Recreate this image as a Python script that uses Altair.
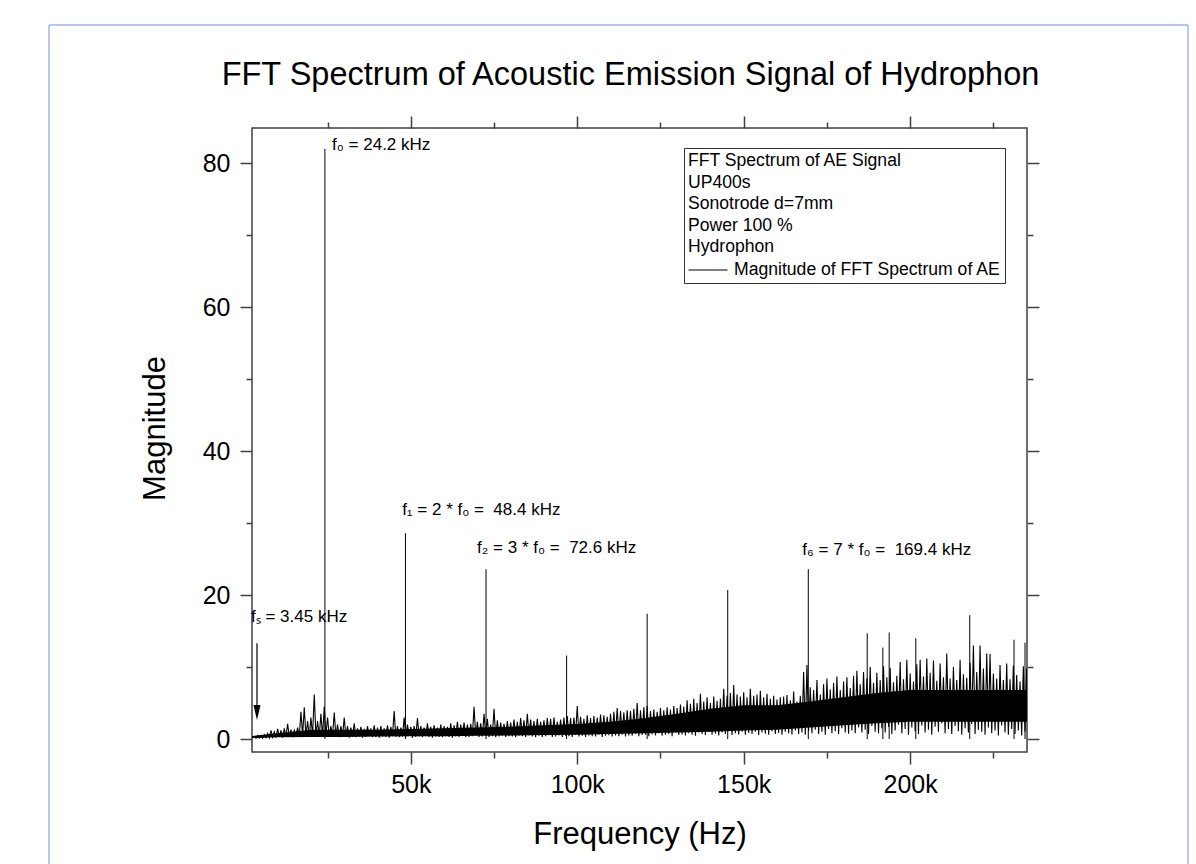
import altair as alt
import pandas as pd

FONT = "Liberation Sans"
FRAME = "#404040"
NBSP = "\u00a0"

chart_title = "FFT Spectrum of Acoustic Emission Signal of Hydrophon"
x_title = "Frequency (Hz)"
y_title = "Magnitude"

# axes (frequency in kHz)
x_domain = [2.3, 235.1]
y_domain = [-1.8, 84.9]
x_ticks = [25, 50, 75, 100, 125, 150, 175, 200, 225]
y_ticks = [0, 10, 20, 30, 40, 50, 60, 70, 80]

# local maxima of the noise floor, one per kHz from 3 kHz to 235 kHz
noise_start_khz = 3
noise_peak = [
    0.4, 0.5, 0.5, 0.6, 0.8, 1.2, 1.0, 1.4, 1.2, 1.5,
    2.1, 1.3, 1.2, 1.6, 3.8, 4.4, 2.5, 3.0, 6.2, 2.5,
    3.5, 4.5, 3.0, 1.8, 3.7, 2.0, 1.8, 3.0, 1.8, 1.6,
    2.2, 1.5, 1.7, 1.4, 1.8, 1.5, 1.9, 1.6, 1.8, 1.5,
    1.9, 1.7, 3.9, 1.8, 1.6, 3.0, 2.0, 1.7, 1.8, 2.9,
    1.8, 1.6, 2.2, 1.7, 1.9, 1.6, 2.0, 1.8, 1.7, 2.2,
    1.9, 2.4, 2.0, 2.3, 2.0, 2.1, 4.5, 2.4, 2.2, 3.5,
    2.8, 2.0, 4.2, 2.6, 2.3, 2.1, 2.5, 2.3, 2.7, 2.4,
    2.9, 2.6, 3.5, 2.7, 2.5, 2.8, 2.4, 2.6, 2.9, 2.8,
    3.0, 2.4, 2.7, 3.0, 3.2, 2.9, 3.0, 4.6, 3.1, 2.8,
    3.3, 2.9, 3.2, 3.0, 3.4, 3.3, 3.1, 3.5, 3.8, 4.3,
    3.9, 3.7, 4.0, 3.9, 4.2, 5.0, 4.0, 4.4, 4.6, 3.9,
    4.1, 3.8, 4.3, 4.0, 4.4, 4.1, 4.6, 4.3, 4.8, 4.5,
    5.4, 4.9, 5.6, 5.0, 6.3, 5.2, 5.8, 5.0, 5.9, 5.3,
    5.6, 7.0, 6.0, 6.4, 7.5, 6.2, 5.9, 6.5, 5.8, 7.0,
    6.0, 6.2, 6.7, 5.8, 6.3, 5.6, 6.0, 5.5, 5.8, 5.9,
    6.1, 5.4, 6.6, 5.2, 6.0, 9.3, 10.3, 7.2, 6.8, 8.2,
    6.2, 7.6, 8.4, 6.9, 7.8, 8.7, 6.8, 8.0, 8.6, 7.1,
    8.8, 9.5, 7.6, 9.3, 8.4, 10.0, 7.8, 9.2, 8.2, 10.1,
    8.6, 9.9, 7.9, 8.8, 10.7, 8.3, 11.0, 9.1, 8.0, 10.4,
    11.0, 8.7, 11.2, 9.2, 10.9, 8.1, 10.5, 8.6, 11.9, 8.4,
    10.0, 8.2, 11.0, 9.0, 8.5, 10.6, 13.0, 9.3, 13.0, 9.8,
    11.9, 11.8, 9.1, 8.4, 10.3, 8.2, 10.5, 8.3, 10.2, 8.9,
    8.0, 10.1, 9.8,
]
# local minima between them (half a kHz later)
noise_dip = [
    0.1, 0.15, 0.1, 0.2, 0.15, 0.25, 0.2, 0.3, 0.2, 0.3,
    0.35, 0.25, 0.4, 0.3, 0.5, 0.4, 0.3, 0.45, 0.5, 0.35,
    0.3, 0.6, 0.4, 0.3, 0.45, 0.25, 0.35, 0.4, 0.2, 0.3,
    0.25, 0.35, 0.2, 0.3, 0.4, 0.25, 0.3, 0.2, 0.35, 0.3,
    0.2, 0.4, 0.3, 0.25, 0.35, 0.3, 0.45, 0.2, 0.3, 0.35,
    0.25, 0.4, 0.3, 0.2, 0.35, 0.3, 0.25, 0.4, 0.3, 0.2,
    0.35, 0.3, 0.45, 0.25, 0.3, 0.4, 0.5, 0.3, 0.35, 0.45,
    0.3, 0.4, 0.25, 0.35, 0.5, 0.3, 0.4, 0.35, 0.25, 0.45,
    0.4, 0.3, 0.5, 0.35, 0.25, 0.45, 0.3, 0.4, 0.55, 0.3,
    0.35, 0.5, 0.3, 0.45, 0.4, 0.3, 0.6, 0.35, 0.45, 0.3,
    0.5, 0.4, 0.35, 0.6, 0.3, 0.45, 0.55, 0.35, 0.5, 0.4,
    0.6, 0.35, 0.5, 0.45, 0.7, 0.4, 0.55, 0.6, 0.4, 0.65,
    0.5, 0.8, 0.45, 0.6, 0.7, 0.4, 0.9, 0.55, 0.65, 0.5,
    0.8, 0.6, 0.45, 0.9, 0.7, 0.55, 1.0, 0.6, 0.75, 0.5,
    0.9, 0.7, 1.1, 0.55, 0.8, 0.65, 1.0, 0.6, 0.85, 0.7,
    1.0, 0.55, 0.9, 0.75, 0.6, 1.1, 0.7, 0.85, 0.6, 1.0,
    0.8, 0.65, 1.2, 0.7, 0.9, 0.6, 1.1, 0.8, 1.3, 0.7,
    1.0, 0.6, 1.4, 0.8, 1.1, 0.7, 1.5, 0.9, 0.75, 1.2,
    0.8, 1.6, 0.9, 1.3, 0.7, 1.8, 1.0, 0.8, 1.5, 0.9,
    1.7, 0.7, 1.2, 2.0, 0.8, 1.4, 0.6, 1.6, 1.1, 0.7,
    1.9, 0.9, 1.3, 0.6, 1.7, 1.0, 2.2, 0.8, 1.4, 0.7,
    1.8, 1.1, 0.6, 1.5, 0.9, 2.1, 0.7, 1.3, 1.0, 0.6,
    1.6, 0.8, 1.2, 0.5, 1.9, 0.9, 0.6, 1.4, 0.7, 1.2,
    0.5, 1.0, 0.8,
]

# solid core of the noise band, every 10 kHz from 0 to 240 kHz
env_khz = [0, 10, 20, 30, 40, 50, 60, 70, 80, 90, 100, 110, 120,
           130, 140, 150, 160, 170, 180, 190, 200, 210, 220, 230, 240]
core_low = [0.1, 0.25, 0.3, 0.3, 0.35, 0.4, 0.4, 0.45, 0.5, 0.55, 0.6, 0.7, 0.8,
            0.9, 1.0, 1.2, 1.3, 1.6, 1.9, 2.2, 2.4, 2.4, 2.4, 2.4, 2.4]
core_high = [0.3, 0.8, 1.3, 1.3, 1.3, 1.4, 1.5, 1.6, 1.7, 1.9, 2.1, 2.4, 2.9,
             3.5, 4.2, 4.7, 4.7, 5.2, 5.8, 6.4, 6.8, 6.8, 6.8, 6.8, 6.8]

# harmonic lines and other isolated spikes
spike_khz = [24.2, 48.4, 72.6, 96.8, 121.0, 145.2, 169.4,
             187.1, 191.8, 193.7, 201.7, 217.9, 231.2, 234.5]
spike_mag = [82.0, 28.6, 23.6, 11.6, 17.4, 20.7, 23.6,
             14.7, 12.7, 14.8, 14.0, 17.2, 13.8, 13.4]

# annotations
ann_text = ["f\u2080 = 24.2 kHz",
            "f\u2081 = 2 * f\u2080 = " + NBSP + "48.4 kHz",
            "f\u2082 = 3 * f\u2080 = " + NBSP + "72.6 kHz",
            "f\u2086 = 7 * f\u2080 = " + NBSP + "169.4 kHz",
            "f\u209b = 3.45 kHz"]
ann_khz = [26.35, 47.4, 69.9, 167.6, 2.0]
ann_mag = [81.8, 31.1, 25.8, 25.6, 16.25]

arrow_khz = [3.8]
arrow_from = [13.3]
arrow_head = [3.7]

legend_lines = ["FFT Spectrum of AE Signal", "UP400s", "Sonotrode d=7mm",
                "Power 100 %", "Hydrophon"]
series_name = "Magnitude of FFT Spectrum of AE"

# ---------- tables ----------
rows = []
for i, (hi, lo) in enumerate(zip(noise_peak, noise_dip)):
    k = noise_start_khz + i
    rows.append({"khz": k, "mag": hi, "series": series_name})
    rows.append({"khz": k + 0.5, "mag": lo, "series": series_name})
df_line = pd.DataFrame(rows)
df_env = pd.DataFrame({"khz": env_khz, "lo": core_low, "hi": core_high})
df_spike = pd.DataFrame({"khz": spike_khz, "base": [0] * len(spike_khz), "mag": spike_mag})
df_ann = pd.DataFrame({"khz": ann_khz, "mag": ann_mag, "text": ann_text})
df_arrow = pd.DataFrame({"khz": arrow_khz, "top": arrow_from, "head": arrow_head})

xs = alt.Scale(domain=x_domain, nice=False, zero=False)
ys = alt.Scale(domain=y_domain, nice=False, zero=False)

x_tick_size = {"condition": {"test": "datum.value % 50 === 0", "value": 12}, "value": 6}
y_tick_size = {"condition": {"test": "datum.value % 20 === 0", "value": 12}, "value": 6}

axis_bottom = alt.Axis(orient="bottom", values=x_ticks, tickSize=x_tick_size,
                       labelExpr="datum.value % 50 === 0 ? datum.value + 'k' : ''",
                       labelFontSize=25, labelPadding=8, title=x_title,
                       titleFontSize=31, titlePadding=22)
axis_left = alt.Axis(orient="left", values=y_ticks, tickSize=y_tick_size,
                     labelExpr="datum.value % 20 === 0 ? datum.label : ''",
                     labelFontSize=25, labelPadding=10, title=y_title,
                     titleFontSize=31, titlePadding=31, titleY=300)
axis_top = alt.Axis(orient="top", values=x_ticks, tickSize=x_tick_size,
                    labels=False, title=None)
axis_right = alt.Axis(orient="right", values=y_ticks, tickSize=y_tick_size,
                      labels=False, title=None)

core = alt.Chart(df_env).mark_area(color="black", clip=True).encode(
    x=alt.X("khz:Q", scale=xs, axis=axis_bottom),
    y=alt.Y("lo:Q", scale=ys, axis=axis_left),
    y2="hi:Q",
)

line = alt.Chart(df_line).mark_line(strokeWidth=1.1, clip=True).encode(
    x=alt.X("khz:Q", scale=xs, axis=None),
    y=alt.Y("mag:Q", scale=ys, axis=None),
    stroke=alt.Stroke(
        "series:N",
        scale=alt.Scale(range=["black"]),
        legend=alt.Legend(
            title=legend_lines, orient="none", legendX=432, legendY=20,
            strokeColor="#333333", fillColor="white", padding=4,
            titleFont=FONT, titleFontSize=17.6, titleFontWeight="normal",
            titleColor="black", titleLineHeight=21.6, titlePadding=-6,
            titleLimit=400, labelFont=FONT, labelFontSize=17.6, labelColor="black",
            labelLimit=400, labelOffset=6, symbolType="stroke", symbolSize=1521,
            symbolStrokeWidth=1, symbolStrokeColor="black",
        ),
    ),
)

spikes = alt.Chart(df_spike).mark_rule(color="black", strokeWidth=1, clip=True).encode(
    x=alt.X("khz:Q", scale=xs, axis=axis_top),
    y=alt.Y("base:Q", scale=ys, axis=axis_right),
    y2="mag:Q",
)

labels = alt.Chart(df_ann).mark_text(
    align="left", baseline="alphabetic", font=FONT, fontSize=17, color="black"
).encode(
    x=alt.X("khz:Q", scale=xs, axis=None),
    y=alt.Y("mag:Q", scale=ys, axis=None),
    text="text:N",
)

arrow_shaft = alt.Chart(df_arrow).mark_rule(color="black", strokeWidth=1.2).encode(
    x=alt.X("khz:Q", scale=xs, axis=None),
    y=alt.Y("top:Q", scale=ys, axis=None),
    y2="head:Q",
)
arrow_tip = alt.Chart(df_arrow).mark_point(
    shape="M-0.47,-1L0.47,-1L0,1Z", size=225, filled=True, color="black", opacity=1
).encode(
    x=alt.X("khz:Q", scale=xs, axis=None),
    y=alt.Y("head:Q", scale=ys, axis=None),
)

border = alt.Chart(pd.DataFrame({"a": [0]})).mark_rect(
    fill=None, stroke="#6f95cf", strokeWidth=1
).encode(
    x=alt.value(-203), x2=alt.value(936), y=alt.value(-103), y2=alt.value(760)
)

chart = alt.layer(
    border, core, line, spikes, labels, arrow_shaft, arrow_tip
).resolve_axis(
    x="independent", y="independent"
).properties(
    width=775, height=624,
    autosize=alt.AutoSizeParams(type="none"),
    padding={"left": 252, "top": 128, "right": 169, "bottom": 112},
    background="white",
    title=alt.TitleParams(chart_title, font=FONT, fontSize=32.5, fontWeight="normal",
                          color="black", anchor="middle", offset=-67, dx=-9),
).configure_view(
    stroke=FRAME, strokeWidth=1.5
).configure_axis(
    domain=False, grid=False, tickColor=FRAME, tickWidth=1.5,
    labelFont=FONT, labelColor="black", titleFont=FONT, titleColor="black",
    titleFontWeight="normal",
)

chart.save("out.html", embed_options={"renderer": "svg", "actions": False})
